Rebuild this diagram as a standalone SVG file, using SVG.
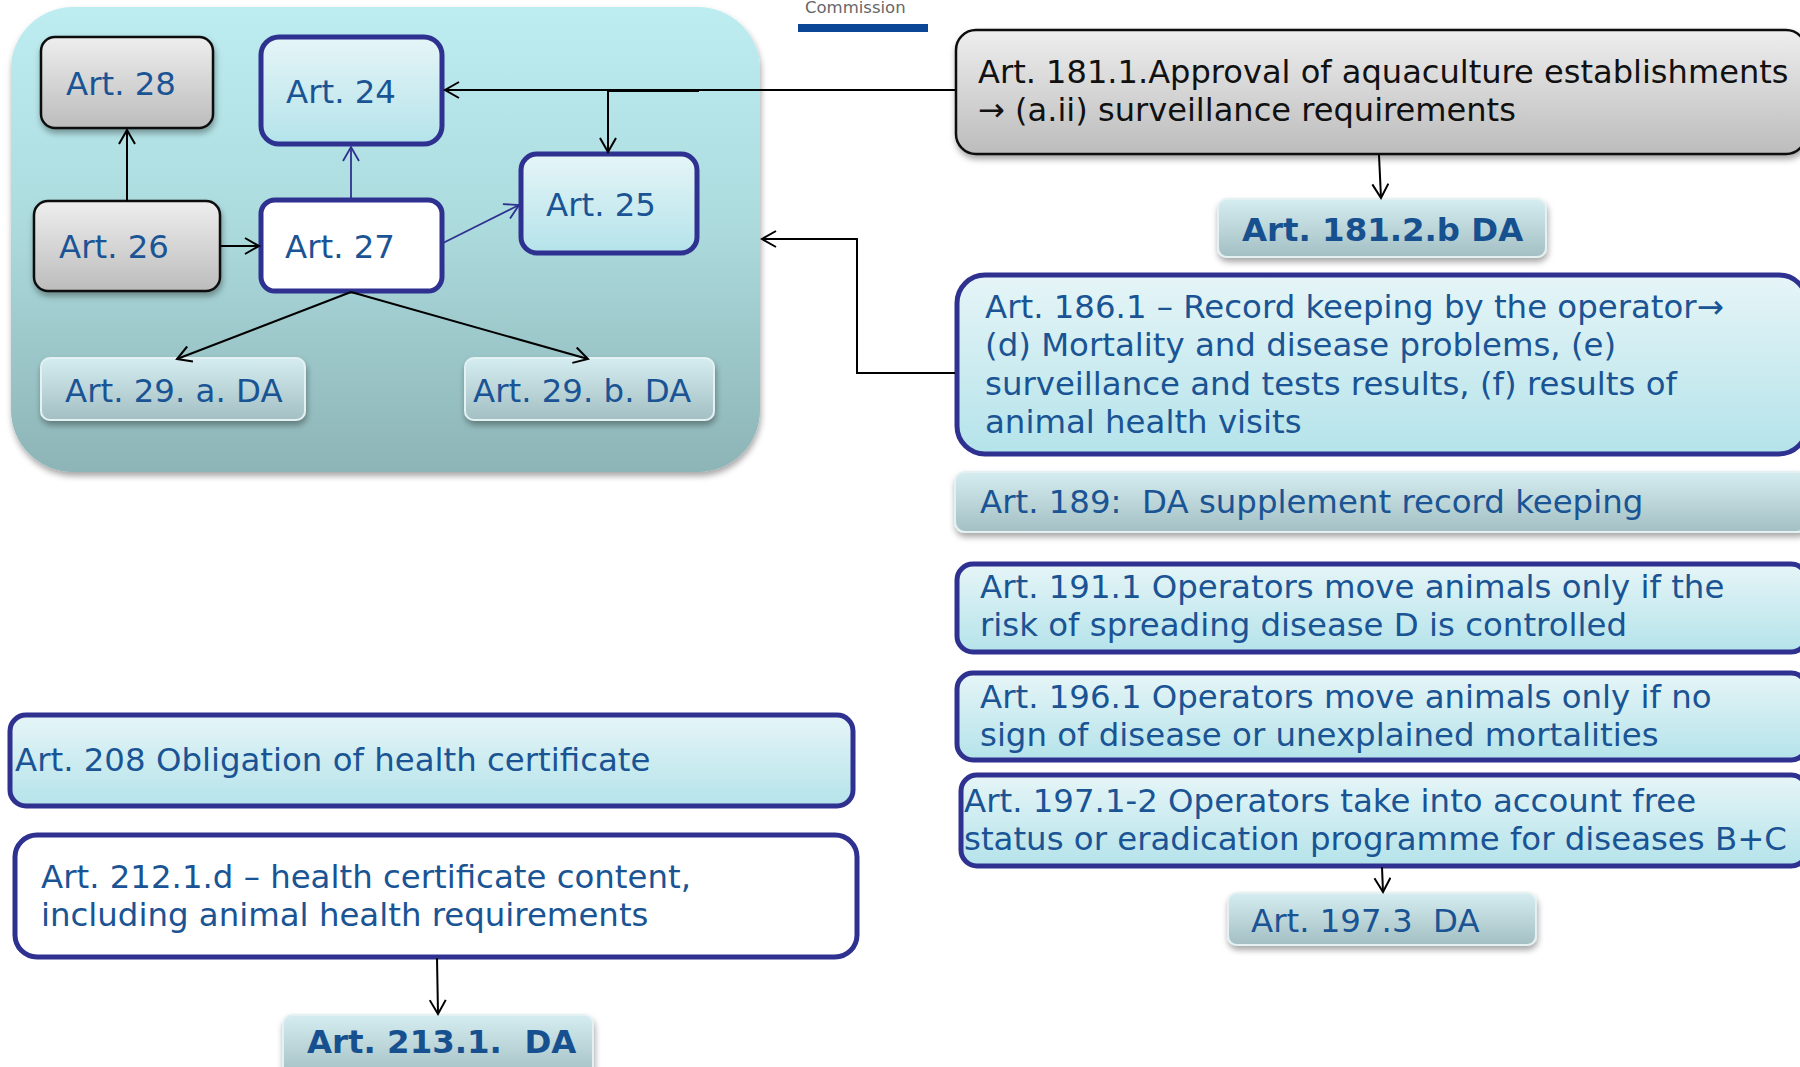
<svg xmlns="http://www.w3.org/2000/svg" width="1800" height="1067" viewBox="0 0 1800 1067">
<style>
text{font-family:"DejaVu Sans",Verdana,sans-serif;font-size:32.4px;fill:#1a5494}
.bk{fill:#111;font-size:32.1px}
.bd{font-weight:bold;fill:#17508f}
.blue{fill:url(#gCyan);stroke:#2e3190;stroke-width:5}
.white{fill:#fff;stroke:#2e3190;stroke-width:5}
.gray{fill:url(#gGray);stroke:#111;stroke-width:2.5}
.da{fill:url(#gDA);stroke:#e4f1f3;stroke-width:2}
.c{fill:none;stroke:#000;stroke-width:2}
.cb{fill:none;stroke:#2e3190;stroke-width:1.8}
</style>
<defs>
<linearGradient id="gCont" x1="0" y1="0" x2="0" y2="1"><stop offset="0" stop-color="#bdedf1"/><stop offset="0.45" stop-color="#addcdf"/><stop offset="1" stop-color="#8db4b6"/></linearGradient>
<linearGradient id="gCyan" x1="0" y1="0" x2="0" y2="1"><stop offset="0" stop-color="#e6f5f7"/><stop offset="1" stop-color="#b4e3ea"/></linearGradient>
<linearGradient id="gGray" x1="0" y1="0" x2="0" y2="1"><stop offset="0" stop-color="#eeeeee"/><stop offset="1" stop-color="#bcbcbc"/></linearGradient>
<linearGradient id="gDA" x1="0" y1="0" x2="0" y2="1"><stop offset="0" stop-color="#d5edf0"/><stop offset="1" stop-color="#a3bfc3"/></linearGradient>
<filter id="sh" x="-10%" y="-10%" width="120%" height="130%"><feDropShadow dx="1" dy="4" stdDeviation="3" flood-color="#000" flood-opacity="0.35"/></filter>
<marker id="ak" markerUnits="userSpaceOnUse" markerWidth="18" markerHeight="18" viewBox="0 0 18 18" refX="16" refY="9" orient="auto"><path d="M2,1 L16,9 L2,17" fill="none" stroke="#000" stroke-width="2"/></marker>
<marker id="ab" markerUnits="userSpaceOnUse" markerWidth="18" markerHeight="18" viewBox="0 0 18 18" refX="16" refY="9" orient="auto"><path d="M2,1 L16,9 L2,17" fill="none" stroke="#2e3190" stroke-width="1.8"/></marker>
</defs>

<g id="header">
<text x="805" y="13" style="font-size:16.5px;fill:#666">Commission</text>
<rect x="798" y="24" width="130" height="8" fill="#0b4595"/>
</g>

<g id="container">
<rect x="11" y="7" width="749" height="465" rx="62" fill="url(#gCont)" filter="url(#sh)"/>
</g>

<g id="art28"><rect class="gray" x="41" y="37" width="172" height="91" rx="14" filter="url(#sh)"/><text x="66" y="95">Art. 28</text></g>
<g id="art24"><rect class="blue" x="261" y="37" width="181" height="107" rx="18"/><text x="286" y="103">Art. 24</text></g>
<g id="art26"><rect class="gray" x="34" y="201" width="186" height="90" rx="14" filter="url(#sh)"/><text x="59" y="258">Art. 26</text></g>
<g id="art27"><rect class="white" x="261" y="200" width="181" height="91" rx="14"/><text x="285" y="258">Art. 27</text></g>
<g id="art25"><rect class="blue" x="521" y="154" width="176" height="99" rx="16"/><text x="546" y="216">Art. 25</text></g>
<g id="art29a"><rect class="da" x="41" y="358" width="264" height="62" rx="9" filter="url(#sh)"/><text x="65" y="402">Art. 29. a. DA</text></g>
<g id="art29b"><rect class="da" x="465" y="358" width="249" height="62" rx="9" filter="url(#sh)"/><text x="473" y="402">Art. 29. b. DA</text></g>

<g id="art181-1"><rect class="gray" x="956" y="30" width="850" height="124" rx="20" filter="url(#sh)"/><text class="bk" x="978" y="83">Art. 181.1.Approval of aquaculture establishments</text><text class="bk" x="978" y="121">→ (a.ii) surveillance requirements</text></g>
<g id="art181-2b"><rect class="da" x="1218" y="199" width="328" height="58" rx="9" filter="url(#sh)"/><text class="bd" x="1242" y="241">Art. 181.2.b DA</text></g>
<g id="art186-1"><rect class="blue" x="957" y="275" width="850" height="179" rx="28"/>
<text x="985" y="318">Art. 186.1 – Record keeping by the operator→</text>
<text x="985" y="356">(d) Mortality and disease problems, (e)</text>
<text x="985" y="395">surveillance and tests results, (f) results of</text>
<text x="985" y="433">animal health visits</text></g>
<g id="art189"><rect class="da" x="955" y="472" width="852" height="60" rx="10" filter="url(#sh)"/><text x="980" y="513" xml:space="preserve">Art. 189:  DA supplement record keeping</text></g>
<g id="art191-1"><rect class="blue" x="957" y="564" width="850" height="88" rx="16"/><text x="980" y="598">Art. 191.1 Operators move animals only if the</text><text x="980" y="636">risk of spreading disease D is controlled</text></g>
<g id="art196-1"><rect class="blue" x="957" y="673" width="850" height="87" rx="16"/><text x="980" y="708">Art. 196.1 Operators move animals only if no</text><text x="980" y="746">sign of disease or unexplained mortalities</text></g>
<g id="art197-1-2"><rect class="blue" x="961" y="775" width="846" height="91" rx="16"/><text x="964" y="812">Art. 197.1-2 Operators take into account free</text><text x="964" y="850">status or eradication programme for diseases B+C</text></g>
<g id="art197-3"><rect class="da" x="1228" y="893" width="308" height="52" rx="9" filter="url(#sh)"/><text x="1251" y="932" xml:space="preserve">Art. 197.3  DA</text></g>

<g id="art208"><rect class="blue" x="10" y="715" width="843" height="91" rx="16"/><text x="15" y="771">Art. 208 Obligation of health certificate</text></g>
<g id="art212-1-d"><rect class="white" x="15" y="835" width="842" height="122" rx="22"/><text x="41" y="888">Art. 212.1.d – health certificate content,</text><text x="41" y="926">including animal health requirements</text></g>
<g id="art213-1"><rect class="da" x="283" y="1015" width="310" height="62" rx="9" filter="url(#sh)"/><text class="bd" x="307" y="1053" xml:space="preserve">Art. 213.1.  DA</text></g>

<g id="connectors">
<path class="c" d="M127,201 V130" marker-end="url(#ak)"/>
<path class="c" d="M220,246 H259" marker-end="url(#ak)"/>
<path class="cb" d="M351,199 V147" marker-end="url(#ab)"/>
<path class="cb" d="M443,243 L519,205" marker-end="url(#ab)"/>
<path class="c" d="M351,292 L177,359" marker-end="url(#ak)"/>
<path class="c" d="M351,292 L588,359" marker-end="url(#ak)"/>
<path class="c" d="M955,90 H445" marker-end="url(#ak)"/>
<path class="c" d="M699,91 H608 V152" marker-end="url(#ak)"/>
<path class="c" d="M1379,155 L1381,198" marker-end="url(#ak)"/>
<path class="c" d="M955,373 H857 V239 H762" marker-end="url(#ak)"/>
<path class="c" d="M1382,867 L1383,892" marker-end="url(#ak)"/>
<path class="c" d="M437,958 L438,1014" marker-end="url(#ak)"/>
</g>
</svg>
